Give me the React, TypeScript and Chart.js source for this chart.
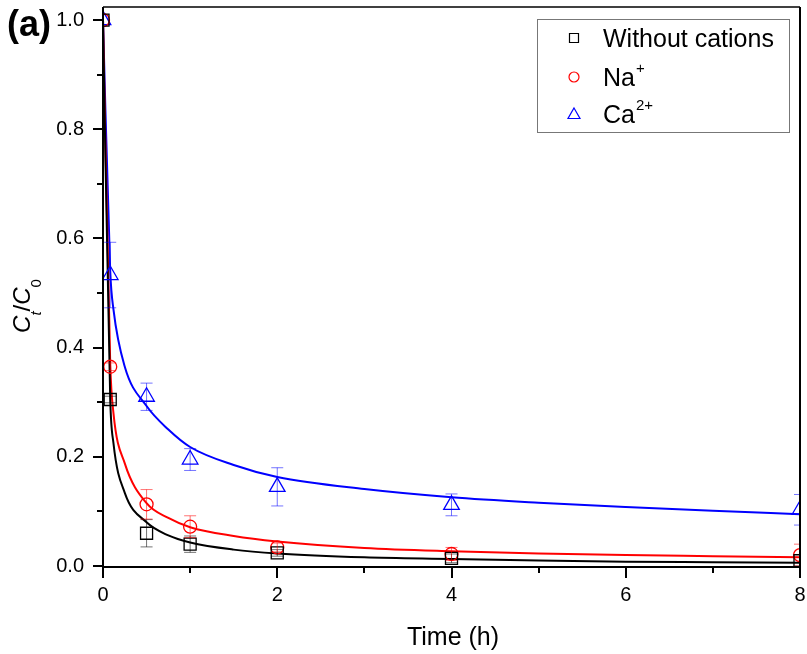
import React, { useEffect, useRef } from 'react';
import { Chart, registerables } from 'chart.js';

Chart.register(...registerables);

// Measured points (time in h)
const times = [0, 0.083, 0.5, 1, 2, 4, 8];
const withoutCations = [1.0, 0.305, 0.06, 0.04, 0.024, 0.014, 0.01];
const withoutErr = [0, 0.006, 0.025, 0.015, 0.006, 0.008, 0.01];
const sodium = [1.0, 0.365, 0.113, 0.072, 0.034, 0.022, 0.02];
const sodiumErr = [0, 0.007, 0.027, 0.02, 0.008, 0.012, 0.02];
const calcium = [1.0, 0.533, 0.31, 0.195, 0.145, 0.112, 0.103];
const calciumErr = [0, 0.06, 0.025, 0.02, 0.035, 0.02, 0.028];

// Fitted curves
const fitTimes = [0, 0.083, 0.12, 0.25, 0.5, 0.75, 1, 1.5, 2, 3, 4, 5, 6, 7, 8];
const fitWithout = [1.0, 0.305, 0.225, 0.134, 0.08, 0.056, 0.043, 0.03, 0.023, 0.016, 0.013, 0.01, 0.008, 0.007, 0.006];
const fitSodium = [1.0, 0.37, 0.28, 0.188, 0.115, 0.088, 0.071, 0.055, 0.045, 0.033, 0.027, 0.023, 0.02, 0.018, 0.016];
const fitCalcium = [1.0, 0.54, 0.47, 0.365, 0.293, 0.25, 0.218, 0.185, 0.163, 0.141, 0.126, 0.116, 0.108, 0.101, 0.095];

// Axes
const xTicks = [0, 2, 4, 6, 8];
const xMinor = [1, 3, 5, 7];
const yTicks = [0, 0.2, 0.4, 0.6, 0.8, 1.0];
const yMinor = [0.1, 0.3, 0.5, 0.7, 0.9];

const FONT = "'Liberation Sans', Arial, sans-serif";

const toXY = (xs: number[], ys: number[]) => xs.map((x, i) => ({ x, y: ys[i] }));

const errorSets = [
  { ys: withoutCations, errs: withoutErr, color: 'rgba(0,0,0,0.55)' },
  { ys: sodium, errs: sodiumErr, color: 'rgba(255,0,0,0.55)' },
  { ys: calcium, errs: calciumErr, color: 'rgba(0,0,255,0.55)' },
];

const zeroPad = () => ({ left: 0, right: 0, top: 0, bottom: 0 });

const decorPlugin = {
  id: 'decor',
  beforeLayout(chart: any) {
    Object.values(chart.scales).forEach((s: any) => {
      s.getPadding = zeroPad;
    });
  },
  afterDatasetsDraw(chart: any) {
    const { ctx, chartArea: a, scales } = chart;
    const xs = scales.x;
    const ys = scales.y;
    ctx.save();
    ctx.beginPath();
    ctx.rect(a.left, a.top, a.right - a.left, a.bottom - a.top);
    ctx.clip();
    ctx.lineWidth = 1;
    errorSets.forEach((s) => {
      ctx.strokeStyle = s.color;
      times.forEach((t, i) => {
        const e = s.errs[i];
        if (!e) return;
        const px = xs.getPixelForValue(t);
        const top = ys.getPixelForValue(s.ys[i] + e);
        const bot = ys.getPixelForValue(s.ys[i] - e);
        ctx.beginPath();
        ctx.moveTo(px, top);
        ctx.lineTo(px, bot);
        ctx.moveTo(px - 6, top);
        ctx.lineTo(px + 6, top);
        ctx.moveTo(px - 6, bot);
        ctx.lineTo(px + 6, bot);
        ctx.stroke();
      });
    });
    ctx.restore();
  },
  afterDraw(chart: any) {
    const { ctx, chartArea: a, scales } = chart;
    const xs = scales.x;
    const ys = scales.y;
    ctx.save();
    ctx.strokeStyle = '#000';
    // frame
    ctx.lineWidth = 1.5;
    ctx.beginPath();
    ctx.moveTo(a.left, a.top);
    ctx.lineTo(a.right, a.top);
    ctx.stroke();
    ctx.lineWidth = 2;
    ctx.beginPath();
    ctx.moveTo(a.right, a.top);
    ctx.lineTo(a.right, a.bottom);
    ctx.stroke();
    ctx.beginPath();
    ctx.moveTo(a.left, a.top);
    ctx.lineTo(a.left, a.bottom + 1);
    ctx.lineTo(a.right + 1, a.bottom + 1);
    ctx.stroke();
    // ticks
    ctx.lineWidth = 2;
    ctx.beginPath();
    yTicks.forEach((v) => {
      const p = Math.round(ys.getPixelForValue(v));
      ctx.moveTo(a.left - 10, p);
      ctx.lineTo(a.left, p);
    });
    yMinor.forEach((v) => {
      const p = Math.round(ys.getPixelForValue(v));
      ctx.moveTo(a.left - 6, p);
      ctx.lineTo(a.left, p);
    });
    xTicks.forEach((v) => {
      const p = Math.round(xs.getPixelForValue(v));
      ctx.moveTo(p, a.bottom);
      ctx.lineTo(p, a.bottom + 12);
    });
    xMinor.forEach((v) => {
      const p = Math.round(xs.getPixelForValue(v));
      ctx.moveTo(p, a.bottom);
      ctx.lineTo(p, a.bottom + 7);
    });
    ctx.stroke();

    // panel label
    ctx.fillStyle = '#000';
    ctx.font = `bold 36px ${FONT}`;
    ctx.textAlign = 'left';
    ctx.textBaseline = 'alphabetic';
    ctx.fillText('(a)', 7, 36);

    // x title
    ctx.font = `25px ${FONT}`;
    ctx.textAlign = 'center';
    ctx.fillText('Time (h)', 453, 645);

    // y title: C_t/C_0 rotated
    ctx.save();
    ctx.translate(30, 306);
    ctx.rotate(-Math.PI / 2);
    const parts = [
      { t: 'C', f: `italic 24px ${FONT}`, dy: 0 },
      { t: 't', f: `italic 15px ${FONT}`, dy: 11 },
      { t: '/', f: `24px ${FONT}`, dy: 0 },
      { t: 'C', f: `italic 24px ${FONT}`, dy: 0 },
      { t: '0', f: `15px ${FONT}`, dy: 11 },
    ];
    let total = 0;
    parts.forEach((p) => {
      ctx.font = p.f;
      total += ctx.measureText(p.t).width;
    });
    let cx = -total / 2;
    ctx.textAlign = 'left';
    parts.forEach((p) => {
      ctx.font = p.f;
      ctx.fillText(p.t, cx, p.dy);
      cx += ctx.measureText(p.t).width;
    });
    ctx.restore();

    // legend
    ctx.lineWidth = 1;
    ctx.strokeStyle = '#777';
    ctx.strokeRect(537.5, 19.5, 252, 113);
    const rows = [
      { y: 38, label: 'Without cations', sup: '', color: '#000', sym: 'rect' },
      { y: 77, label: 'Na', sup: '+', color: '#ff0000', sym: 'circle' },
      { y: 114, label: 'Ca', sup: '2+', color: '#0000ff', sym: 'triangle' },
    ];
    rows.forEach((r) => {
      ctx.strokeStyle = r.color;
      ctx.lineWidth = 1.2;
      const sx = 574;
      ctx.beginPath();
      if (r.sym === 'rect') {
        ctx.rect(sx - 4.5, r.y - 4.5, 9, 9);
      } else if (r.sym === 'circle') {
        ctx.arc(sx, r.y, 5, 0, Math.PI * 2);
      } else {
        ctx.moveTo(sx, r.y - 6);
        ctx.lineTo(sx + 6, r.y + 4.5);
        ctx.lineTo(sx - 6, r.y + 4.5);
        ctx.closePath();
      }
      ctx.stroke();
      ctx.fillStyle = '#000';
      ctx.font = `25px ${FONT}`;
      ctx.textAlign = 'left';
      ctx.textBaseline = 'alphabetic';
      ctx.fillText(r.label, 603, r.y + 9);
      if (r.sup) {
        const w = ctx.measureText(r.label).width;
        ctx.font = `15px ${FONT}`;
        ctx.fillText(r.sup, 603 + w + 1, r.y - 4);
      }
    });
    ctx.restore();
  },
};

export default function App() {
  const ref = useRef<HTMLCanvasElement>(null);
  useEffect(() => {
    const canvas = ref.current;
    if (!canvas) return;
    const pointBase = {
      showLine: false,
      backgroundColor: 'transparent',
      pointBackgroundColor: 'transparent',
      pointBorderWidth: 1.3,
      clip: 0,
    };
    const lineBase = {
      showLine: true,
      pointRadius: 0,
      borderWidth: 2,
      cubicInterpolationMode: 'monotone',
      clip: 0,
    };
    const chart = new Chart(canvas, {
      type: 'scatter',
      data: {
        datasets: [
          { ...pointBase, label: 'Without cations', data: toXY(times, withoutCations), pointStyle: 'rect', pointRadius: 8.5, borderColor: '#000', pointBorderColor: '#000' },
          { ...pointBase, label: 'Na+', data: toXY(times, sodium), pointStyle: 'circle', pointRadius: 6.5, borderColor: '#ff0000', pointBorderColor: '#ff0000' },
          { ...pointBase, label: 'Ca2+', data: toXY(times, calcium), pointStyle: 'triangle', pointRadius: 9, borderColor: '#0000ff', pointBorderColor: '#0000ff' },
          { ...lineBase, label: 'fit0', data: toXY(fitTimes, fitWithout), borderColor: '#000' },
          { ...lineBase, label: 'fit1', data: toXY(fitTimes, fitSodium), borderColor: '#ff0000' },
          { ...lineBase, label: 'fit2', data: toXY(fitTimes, fitCalcium), borderColor: '#0000ff' },
        ] as any,
      },
      options: {
        responsive: false,
        animation: false,
        devicePixelRatio: 1,
        events: [],
        layout: { autoPadding: false, padding: { top: 7, right: 7, left: 0, bottom: 0 } },
        plugins: { legend: { display: false }, tooltip: { enabled: false }, title: { display: false } },
        scales: {
          x: {
            type: 'linear',
            min: 0,
            max: 8,
            afterBuildTicks: (s: any) => {
              s.ticks = xTicks.map((v) => ({ value: v }));
            },
            afterFit: (s: any) => {
              s.height = 88;
            },
            grid: { display: false, drawTicks: false },
            border: { display: false },
            ticks: {
              color: '#000',
              font: { family: FONT, size: 20 },
              padding: 17,
              maxRotation: 0,
              autoSkip: false,
              callback: (v: any) => String(v),
            },
          },
          y: {
            type: 'linear',
            min: 0,
            max: 1.024,
            afterBuildTicks: (s: any) => {
              s.ticks = yTicks.map((v) => ({ value: v }));
            },
            afterFit: (s: any) => {
              s.width = 103;
            },
            grid: { display: false, drawTicks: false },
            border: { display: false },
            ticks: {
              color: '#000',
              font: { family: FONT, size: 20 },
              padding: 19,
              autoSkip: false,
              callback: (v: any) => Number(v).toFixed(1),
            },
          },
        },
      } as any,
      plugins: [decorPlugin],
    });
    return () => chart.destroy();
  }, []);
  return (
    <canvas
      ref={ref}
      width={807}
      height={654}
      style={{ position: 'absolute', left: 0, top: 0, width: 807, height: 654, background: '#fff' }}
    />
  );
}
